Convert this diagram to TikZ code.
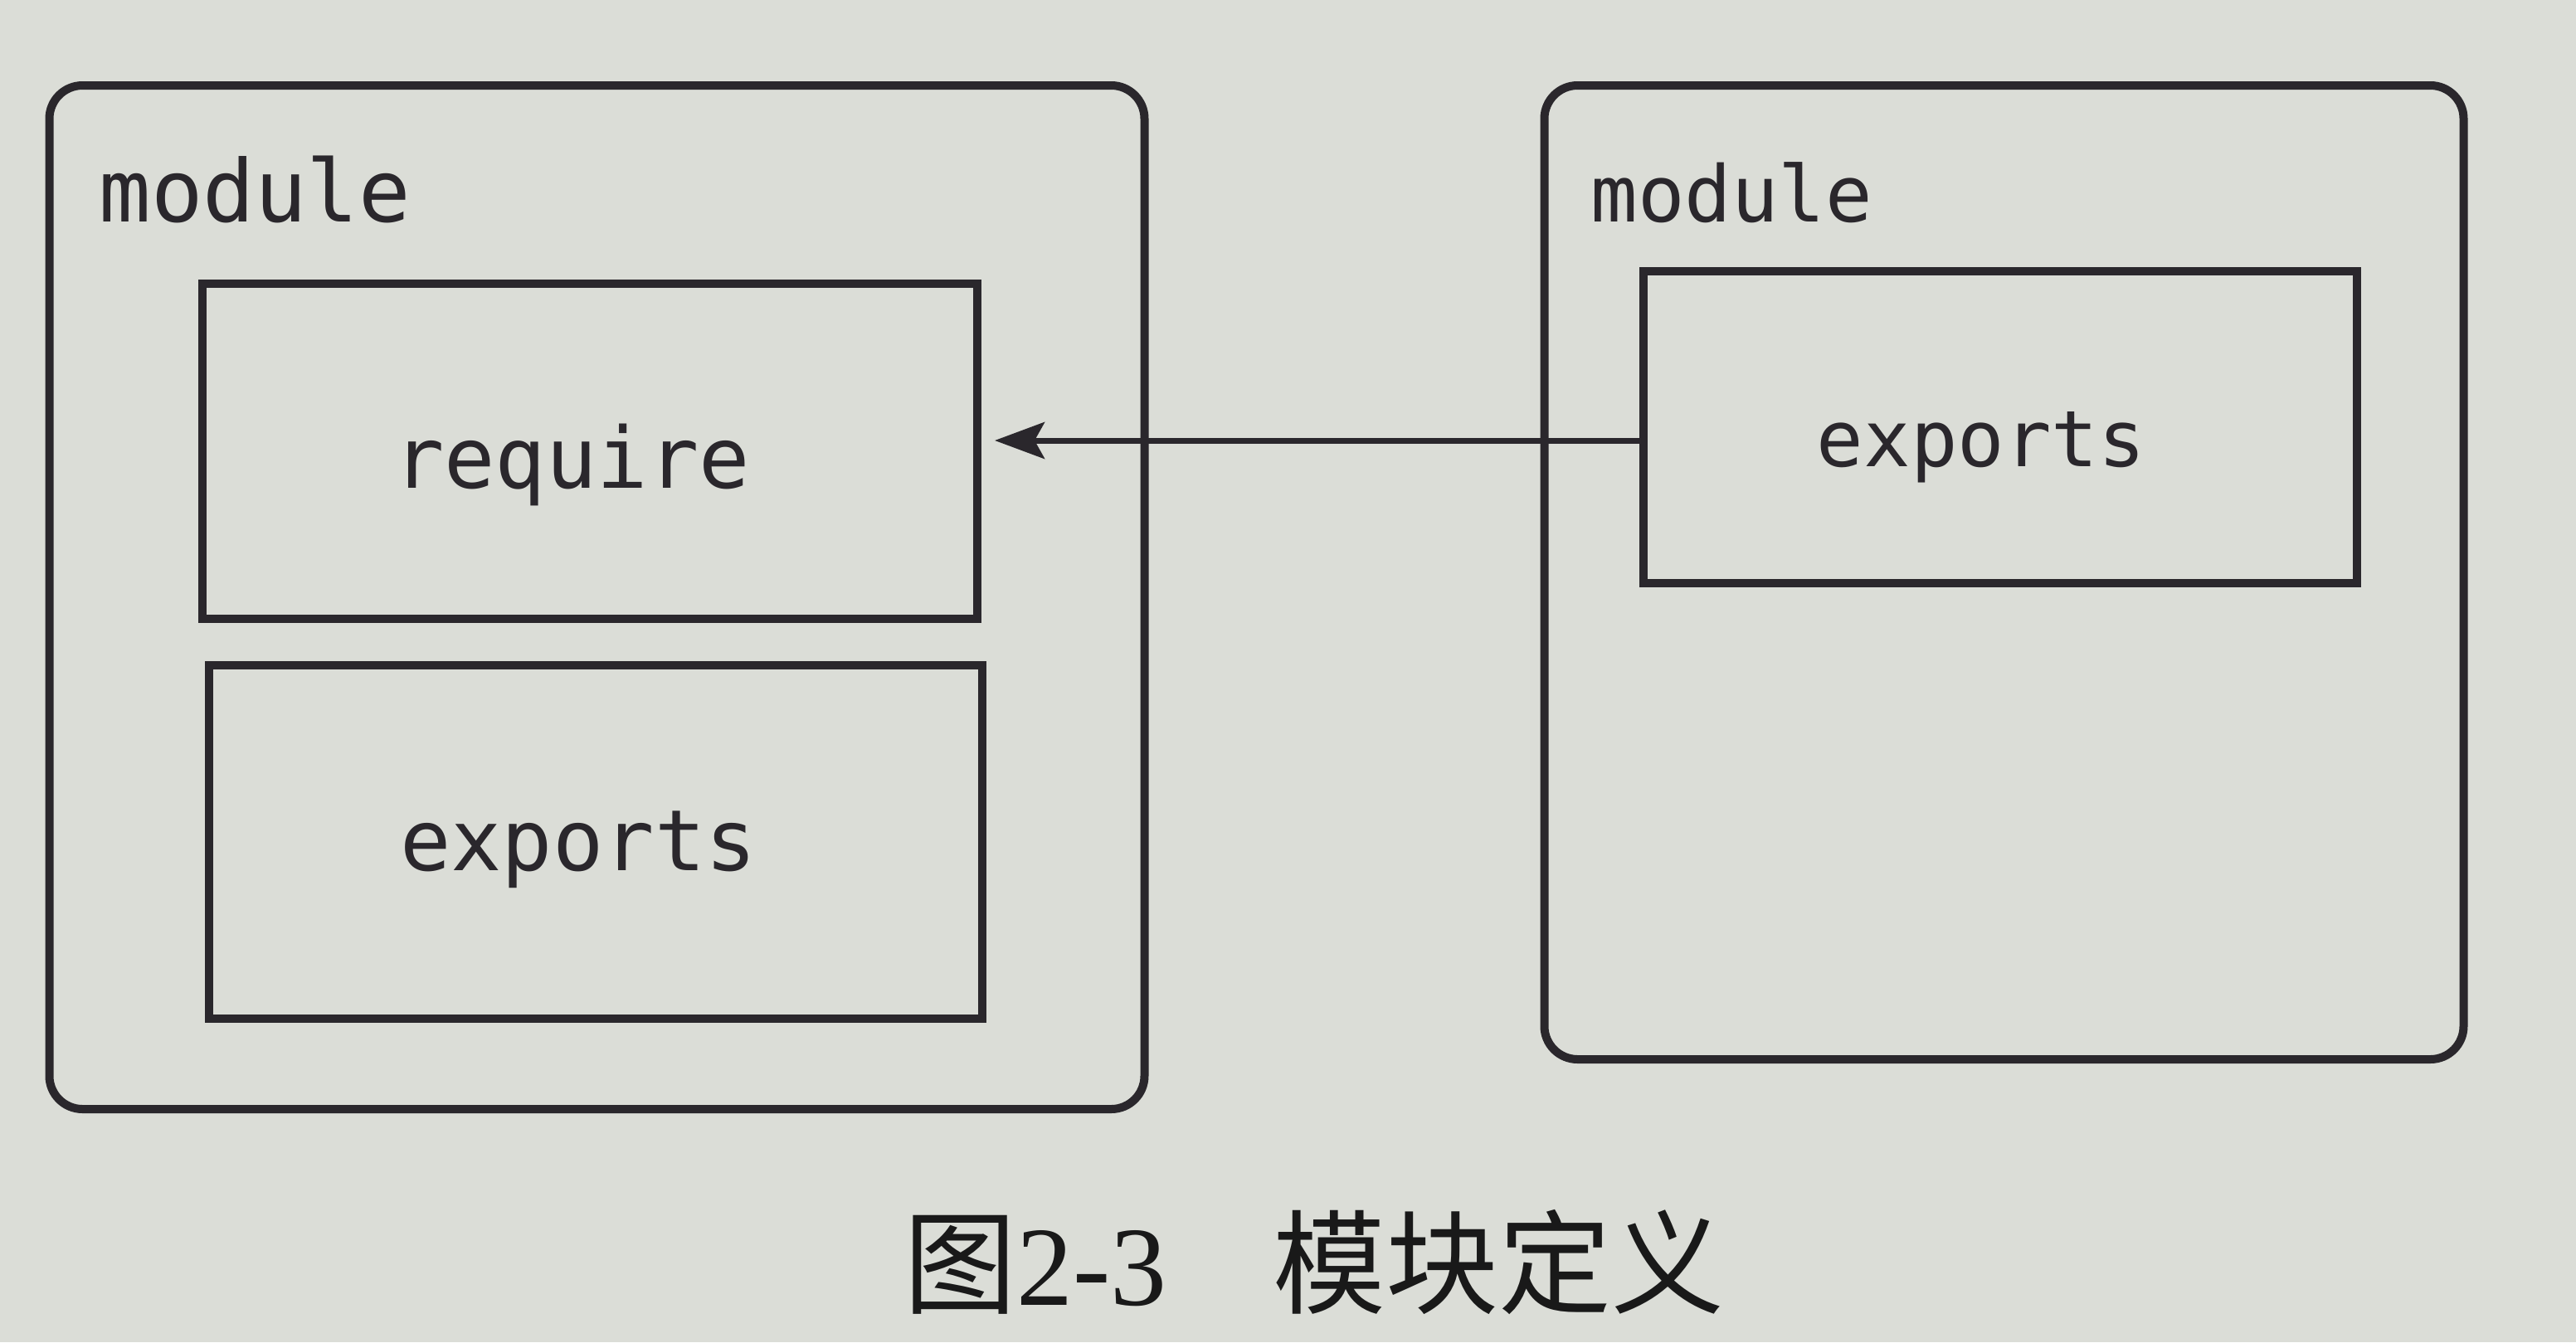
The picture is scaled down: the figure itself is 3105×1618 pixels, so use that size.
\documentclass[tikz,border=0pt]{standalone}
\usepackage{fontspec}
\setmainfont{Liberation Serif}
\setmonofont{DejaVu Sans Mono}
\newfontfamily\cjk{Noto Sans CJK SC}
\usetikzlibrary{arrows.meta}
\definecolor{paper}{RGB}{219,221,215}
\definecolor{ink}{RGB}{42,39,44}
\tikzset{
  px/.style={x=0.5pt,y=-0.5pt},
  modbox/.style={draw=ink,line width=5pt,rounded corners=20pt,inner sep=0pt},
  innerbox/.style={draw=ink,line width=5pt,inner sep=0pt},
  boxtext/.style={anchor=base,inner sep=0pt,font=\ttfamily\fontsize{51}{60}\selectfont,text=ink},
  modlabel/.style={anchor=base west,inner sep=0pt,font=\ttfamily\fontsize{52}{60}\selectfont,text=ink},
  conn/.style={draw=ink,line width=3.5pt,-{Stealth[length=30pt,width=22pt,inset=6pt]}}
}
\begin{document}
\begin{tikzpicture}[px]
\fill[paper] (0,0) rectangle (3105,1618);
\useasboundingbox (0,0) rectangle (3105,1618);
% left module
\node[modbox,minimum width=660pt,minimum height=617pt] (lmod) at (719.5,720) {};
\node[modlabel] (llab) at (119,267) {module};
\node[innerbox,minimum width=467pt,minimum height=202pt] (req) at (711,543.5) {};
\node[boxtext] (reqt) at (689,588) {require};
\node[innerbox,minimum width=466pt,minimum height=213pt] (lexp) at (717.5,1015) {};
\node[boxtext] (lexpt) at (697,1049) {exports};
% right module
\node[modbox,minimum width=554pt,minimum height=587pt] (rmod) at (2415.5,690) {};
\node[modlabel,font=\ttfamily\fontsize{47}{56}\selectfont] (rlab) at (1917,267) {module};
\node[innerbox,minimum width=430pt,minimum height=188pt] (rexp) at (2410.5,515) {};
\node[boxtext,font=\ttfamily\fontsize{47}{56}\selectfont] (rexpt) at (2388,562) {exports};
% connector
\draw[conn,shorten >=8pt] ([yshift=-8pt]rexp.west) -- ([yshift=-8pt]req.east |- rexp.west);
% caption
\node[inner sep=0pt,font=\fontsize{68}{72}\selectfont,text=black!90] (cap) at (1584,1522) {{\cjk 图}2-3\hspace{64pt}{\cjk 模块定义}};
\end{tikzpicture}
\end{document}
